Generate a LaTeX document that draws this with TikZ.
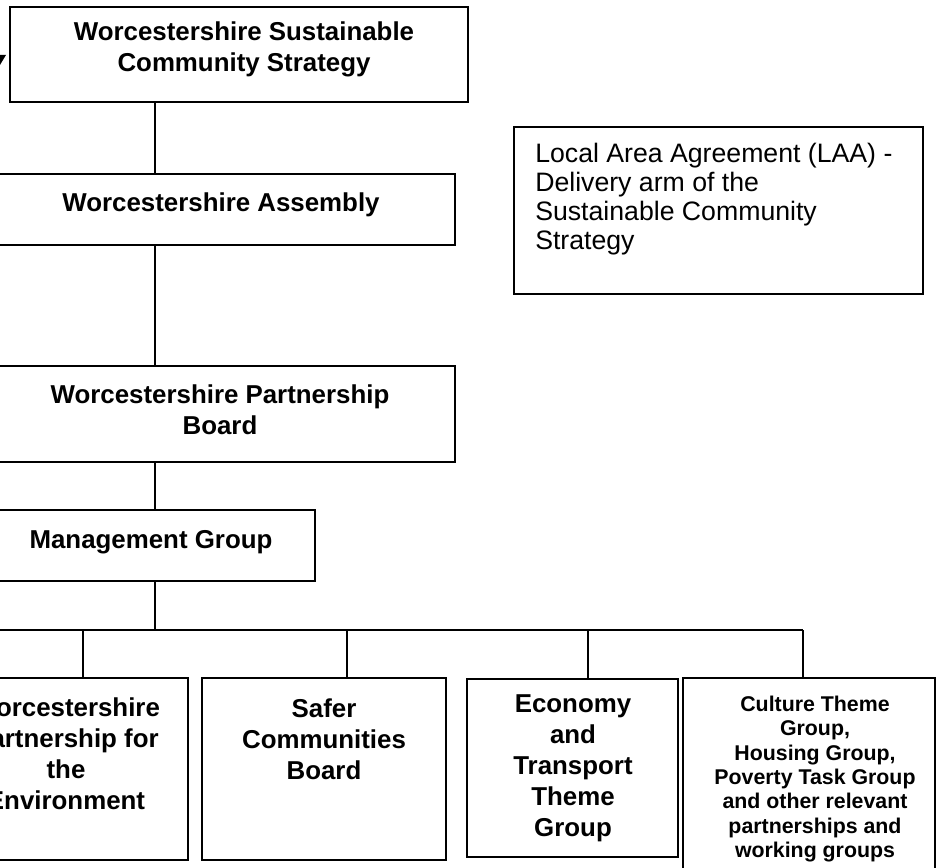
\documentclass[tikz,border=0pt]{standalone}
\usepackage{fontspec}
\setmainfont{Liberation Sans}
\usetikzlibrary{fit}
\tikzset{
  box/.style={draw=black, line width=1.5pt, inner sep=0pt, rectangle},
  conn/.style={draw=black, line width=1.5pt},
  bigtxt/.style={font=\fontsize{19.4}{23.3}\selectfont\bfseries, align=center, inner sep=0pt},
  smalltxt/.style={font=\fontsize{16}{18.2}\selectfont\bfseries, align=center, inner sep=0pt},
  plaintxt/.style={font=\fontsize{20}{21.75}\selectfont, align=left, inner sep=0pt},
}
\begin{document}
\begin{tikzpicture}[x=0.75pt, y=-0.75pt]
\useasboundingbox (0,0) rectangle (938,867);
\begin{scope}
\clip (0,0) rectangle (938,867);
% boxes
\node[box, fit={(10,7)(468,102)}] (sus) {};
\node[box, fit={(-10,174)(455,245)}] (asm) {};
\node[box, fit={(-10,366)(455,462)}] (wpb) {};
\node[box, fit={(-10,510)(315,581)}] (mg) {};
\node[box, fit={(-60,678)(188,860)}] (b1) {};
\node[box, fit={(202,678)(446,860)}] (b2) {};
\node[box, fit={(467,679)(678,857)}] (b3) {};
\node[box, fit={(683,678)(935,880)}] (b4) {};
\node[box, fit={(514,127)(923,294)}] (laa) {};
% texts
\node[bigtxt] (tsus) at (244,49.5) {Worcestershire Sustainable\\Community Strategy};
\node[bigtxt] (tasm) at (221,205) {Worcestershire Assembly};
\node[bigtxt] (twpb) at (220,409.5) {Worcestershire Partnership\\Board};
\node[bigtxt] (tmg) at (151,542) {Management Group};
\node[bigtxt] (tb1) at (66,754) {Worcestershire\\Partnership for\\the\\Environment};
\node[bigtxt] (tb2) at (324,739) {Safer\\Communities\\Board};
\node[bigtxt] (tb3) at (573,768) {Economy\\and\\Transport\\Theme\\Group};
\node[smalltxt] (tb4) at (815,779) {Culture Theme\\Group,\\Housing Group,\\Poverty Task Group\\and other relevant\\partnerships and\\working groups};
\node[plaintxt, anchor=west] (tlaa) at (535,199.5) {Local Area Agreement (LAA) -\\Delivery arm of the\\Sustainable Community\\Strategy};
% fragment of arrowhead at left edge
\fill[black] (0,55) -- (6,55) -- (0,65) -- cycle;
% connectors
\coordinate (spine) at (155,0);
\coordinate (busL) at (-10,630);
\coordinate (busR) at (803,630);
\coordinate (bus) at (155,630);
\draw[conn] (sus.south -| spine) -- (asm.north -| spine);
\draw[conn] (asm.south -| spine) -- (wpb.north -| spine);
\draw[conn] (wpb.south -| spine) -- (mg.north -| spine);
\draw[conn] (mg.south -| spine) -- (bus);
\draw[conn] (busL) -- (busR);
\coordinate (d1) at (83,630);
\coordinate (d2) at (347,630);
\coordinate (d3) at (588,630);
\draw[conn] (d1) -- (d1 |- b1.north);
\draw[conn] (d2) -- (d2 |- b2.north);
\draw[conn] (d3) -- (d3 |- b3.north);
\draw[conn] (busR) -- (busR |- b4.north);
\end{scope}
\end{tikzpicture}
\end{document}
